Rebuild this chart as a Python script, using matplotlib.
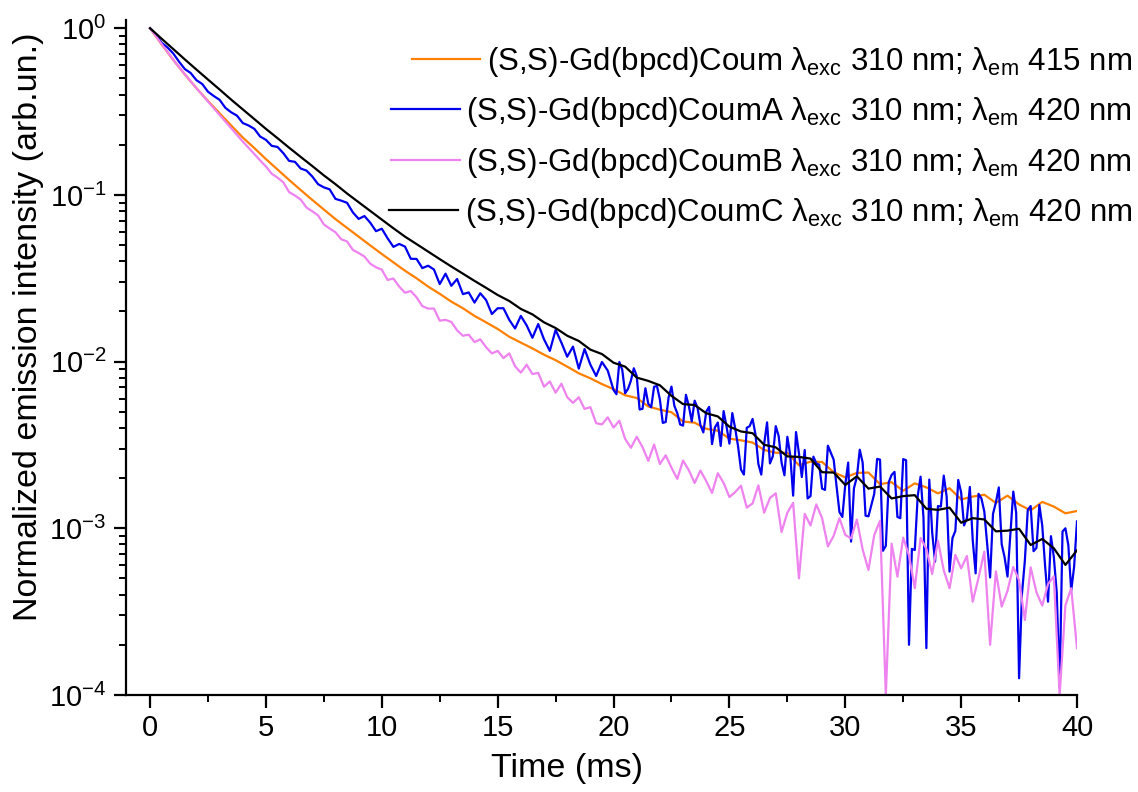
#!/usr/bin/env python3
"""Normalized emission decay of the four Gd(bpcd) coumarin complexes."""

import matplotlib
matplotlib.use("Agg")
import matplotlib.pyplot as plt
import numpy as np
from matplotlib.ticker import MultipleLocator, LogLocator

plt.rcParams["font.family"] = ["Liberation Sans", "DejaVu Sans"]
plt.rcParams["mathtext.fontset"] = "custom"
plt.rcParams["mathtext.rm"] = "Liberation Sans"
plt.rcParams["mathtext.it"] = "Liberation Sans:italic"
plt.rcParams["mathtext.default"] = "regular"

# time grids (ms)
t_half = np.arange(0, 40.01, 0.5)      # orange, black
t_quarter = np.arange(0, 40.01, 0.25)  # pink
t_blue = np.concatenate([np.arange(0, 20, 0.25), np.arange(20, 40.001, 0.125)])

coum = [
    1.0, 0.80, 0.646, 0.528, 0.437, 0.366, 0.309, 0.261, 0.221, 0.191,
    0.164, 0.142, 0.123, 0.107, 0.0933, 0.0817, 0.0716, 0.0634, 0.0562, 0.0498,
    0.0442, 0.0394, 0.0351, 0.0316, 0.0282, 0.0255, 0.0229, 0.0209, 0.0188, 0.0172,
    0.0157, 0.0141, 0.0130, 0.0120, 0.0110, 0.0102, 0.00933, 0.00851, 0.00794, 0.00733,
    0.00684, 0.00628, 0.00605, 0.00538, 0.00515, 0.00497, 0.00437, 0.00430, 0.00395, 0.00385,
    0.00345, 0.00337, 0.00327, 0.00295, 0.00284, 0.00284, 0.00239, 0.00251, 0.00250, 0.00217,
    0.00202, 0.00215, 0.00216, 0.00184, 0.00189, 0.00168, 0.00186, 0.00176, 0.00162, 0.00174,
    0.00149, 0.00155, 0.00159, 0.00142, 0.00157, 0.00139, 0.00128, 0.00144, 0.00135, 0.00123,
    0.00127,
]

coum_c = [
    1.0, 0.865, 0.750, 0.650, 0.565, 0.492, 0.429, 0.373, 0.326, 0.285,
    0.249, 0.219, 0.192, 0.169, 0.149, 0.131, 0.116, 0.102, 0.0904, 0.0802,
    0.0711, 0.0631, 0.0562, 0.0507, 0.0457, 0.0412, 0.0372, 0.0337, 0.0305, 0.0277,
    0.0251, 0.0231, 0.0207, 0.0192, 0.0172, 0.0159, 0.0143, 0.0133, 0.0118, 0.0111,
    0.00985, 0.00933, 0.00802, 0.00766, 0.00721, 0.00623, 0.00556, 0.00549, 0.00490, 0.00469,
    0.00407, 0.00381, 0.00372, 0.00317, 0.00306, 0.00270, 0.00268, 0.00262, 0.00217, 0.00216,
    0.00182, 0.00205, 0.00173, 0.00178, 0.00151, 0.00156, 0.00158, 0.00131, 0.00129, 0.00133,
    0.00108, 0.00115, 0.00113, 0.000959, 0.000968, 0.000993, 0.000794, 0.000863, 0.000759, 0.000603,
    0.000738,
]

coum_a = [
    # 0 - 19.75 ms, every 0.25 ms
    1.0, 0.916, 0.818, 0.767, 0.706, 0.630, 0.569, 0.539, 0.488, 0.463,
    0.416, 0.392, 0.372, 0.333, 0.313, 0.299, 0.270, 0.261, 0.249, 0.224,
    0.214, 0.197, 0.194, 0.178, 0.160, 0.158, 0.144, 0.140, 0.129, 0.116,
    0.111, 0.108, 0.0947, 0.0924, 0.0897, 0.0786, 0.0718, 0.0747, 0.0682, 0.0606,
    0.0627, 0.0549, 0.0488, 0.0508, 0.0490, 0.0414, 0.0413, 0.0364, 0.0376, 0.0357,
    0.0292, 0.0337, 0.0285, 0.0313, 0.0254, 0.0260, 0.0226, 0.0257, 0.0234, 0.0193,
    0.0209, 0.0209, 0.0178, 0.0158, 0.0188, 0.0165, 0.0139, 0.0168, 0.0136, 0.0116,
    0.0155, 0.0130, 0.0107, 0.0123, 0.00908, 0.0119, 0.00959, 0.00820, 0.00995, 0.00883,
    # 20 - 40 ms, every 0.125 ms
    0.00676, 0.00637, 0.00995, 0.00895, 0.00646, 0.00686, 0.00769, 0.00912, 0.00820, 0.00516,
    0.00521, 0.00692, 0.00558, 0.00532, 0.00707, 0.00713, 0.00592, 0.00429, 0.00434, 0.00610,
    0.00708, 0.00543, 0.00491, 0.00420, 0.00413, 0.00632, 0.00541, 0.00438, 0.00583, 0.00528,
    0.00416, 0.00376, 0.00501, 0.00535, 0.00320, 0.00403, 0.00431, 0.00312, 0.00505, 0.00409,
    0.00322, 0.00491, 0.00397, 0.00309, 0.00225, 0.00210, 0.00401, 0.00410, 0.00453, 0.00366,
    0.00243, 0.00210, 0.00321, 0.00432, 0.00245, 0.00271, 0.00410, 0.00358, 0.00248, 0.00208,
    0.00354, 0.00275, 0.00157, 0.00378, 0.00282, 0.00203, 0.00295, 0.00151, 0.00156, 0.00269,
    0.00245, 0.00241, 0.00173, 0.00170, 0.00313, 0.00284, 0.00258, 0.00178, 0.00125, 0.00117,
    0.00183, 0.00248, 0.000832, 0.00174, 0.00203, 0.00296, 0.00248, 0.00119, 0.00118, 0.00138,
    0.00161, 0.00261, 0.00258, 0.000733, 0.000785, 0.00189, 0.00209, 0.00218, 0.00117, 0.00115,
    0.00260, 0.00256, 0.000200, 0.000752, 0.000741, 0.00156, 0.00204, 0.00116, 0.000191, 0.00196,
    0.000946, 0.000631, 0.00136, 0.00135, 0.00207, 0.00155, 0.000550, 0.000873, 0.000964, 0.00195,
    0.00164, 0.00104, 0.00115, 0.00177, 0.000851, 0.000537, 0.00161, 0.00151, 0.00126, 0.000804,
    0.000507, 0.00122, 0.00143, 0.00176, 0.000802, 0.000671, 0.000513, 0.000914, 0.00166, 0.00124,
    0.000126, 0.000405, 0.000640, 0.00129, 0.00136, 0.000729, 0.000762, 0.00138, 0.00104, 0.000590,
    0.000363, 0.000897, 0.000673, 0.000412, 0.000112, 0.000957, 0.00100, 0.000793, 0.000422, 0.000587,
    0.00110,
]

coum_b = [
    1.0, 0.897, 0.804, 0.720, 0.646, 0.585, 0.531, 0.481, 0.437, 0.398,
    0.363, 0.331, 0.302, 0.275, 0.251, 0.229, 0.209, 0.192, 0.176, 0.161,
    0.148, 0.134, 0.127, 0.119, 0.104, 0.0992, 0.0938, 0.0840, 0.0798, 0.0754,
    0.0665, 0.0629, 0.0597, 0.0542, 0.0526, 0.0468, 0.0448, 0.0427, 0.0387, 0.0368,
    0.0356, 0.0309, 0.0315, 0.0282, 0.0259, 0.0265, 0.0243, 0.0215, 0.0208, 0.0208,
    0.0176, 0.0178, 0.0173, 0.0154, 0.0143, 0.0145, 0.0131, 0.0136, 0.0122, 0.0112,
    0.0116, 0.0105, 0.0112, 0.00938, 0.00859, 0.00958, 0.00842, 0.00856, 0.00707, 0.00760,
    0.00651, 0.00737, 0.00612, 0.00566, 0.00611, 0.00520, 0.00533, 0.00427, 0.00420, 0.00463,
    0.00402, 0.00442, 0.00344, 0.00304, 0.00354, 0.00307, 0.00254, 0.00318, 0.00243, 0.00274,
    0.00231, 0.00198, 0.00255, 0.00223, 0.00187, 0.00222, 0.00192, 0.00163, 0.00214, 0.00187,
    0.00154, 0.00165, 0.00180, 0.00133, 0.00141, 0.00181, 0.00124, 0.00152, 0.00162, 0.000950,
    0.00124, 0.00142, 0.000501, 0.00122, 0.00104, 0.00139, 0.00115, 0.000779, 0.000902, 0.00115,
    0.000912, 0.000870, 0.00113, 0.000746, 0.000562, 0.000911, 0.00111, 0.000100, 0.000809, 0.000513,
    0.000879, 0.000686, 0.000437, 0.000875, 0.000752, 0.000532, 0.000843, 0.000560, 0.000437, 0.000692,
    0.000575, 0.000682, 0.000363, 0.000504, 0.000724, 0.000200, 0.000552, 0.000339, 0.000421, 0.000586,
    0.000488, 0.000282, 0.000583, 0.000413, 0.000344, 0.000463, 0.000515, 0.000100, 0.000345, 0.000437,
    0.000191,
]

series = [
    (t_half, coum, "#ff8000",
     r"(S,S)-Gd(bpcd)Coum $\mathrm{λ_{exc}}$ 310 nm; $\mathrm{λ_{em}}$ 415 nm"),
    (t_blue, coum_a, "#0000ee",
     r"(S,S)-Gd(bpcd)CoumA $\mathrm{λ_{exc}}$ 310 nm; $\mathrm{λ_{em}}$ 420 nm"),
    (t_quarter, coum_b, "#ee82ee",
     r"(S,S)-Gd(bpcd)CoumB $\mathrm{λ_{exc}}$ 310 nm; $\mathrm{λ_{em}}$ 420 nm"),
    (t_half, coum_c, "#000000",
     r"(S,S)-Gd(bpcd)CoumC $\mathrm{λ_{exc}}$ 310 nm; $\mathrm{λ_{em}}$ 420 nm"),
]

fig = plt.figure(figsize=(11.38, 7.92), dpi=100)
ax = fig.add_axes([0.1107, 0.1225, 0.8357, 0.8522])

lines = []
for t, y, c, lab in series:
    ln, = ax.plot(t, y, color=c, linewidth=1.6, label=lab)
    lines.append(ln)

ax.set_yscale("log")
ax.set_xlim(-1.04, 40)
ax.set_ylim(1e-4, 1.12)
ax.xaxis.set_major_locator(MultipleLocator(5))
ax.xaxis.set_minor_locator(MultipleLocator(2.5))
ax.yaxis.set_major_locator(LogLocator(base=10))
ax.yaxis.set_minor_locator(LogLocator(base=10, subs=np.arange(2, 10)))

for s in ("top", "right"):
    ax.spines[s].set_visible(False)
for s in ("left", "bottom"):
    ax.spines[s].set_linewidth(1.6)
ax.tick_params(which="major", direction="out", length=9, width=1.6,
               labelsize=21, pad=5)
ax.tick_params(which="minor", direction="out", length=5, width=1.4)

ax.set_xlabel("Time (ms)", fontsize=24.5)
ax.set_ylabel("Normalized emission intensity (arb.un.)", fontsize=24.5)
ax.xaxis.set_label_coords(0.464, -0.086)
ax.yaxis.set_label_coords(-0.086, 0.545)

# one legend per row so each handle sits right next to its right-aligned text
row_y = [62, 112, 163, 213]
for ln, py in zip(lines, row_y):
    fig.legend([ln], [ln.get_label()], loc="center right",
               bbox_to_anchor=(0.995, 1 - py / 792), frameon=False,
               fontsize=22.5, handlelength=2.2, handletextpad=0.22,
               borderpad=0, borderaxespad=0)

fig.savefig("out.png", dpi=100)
